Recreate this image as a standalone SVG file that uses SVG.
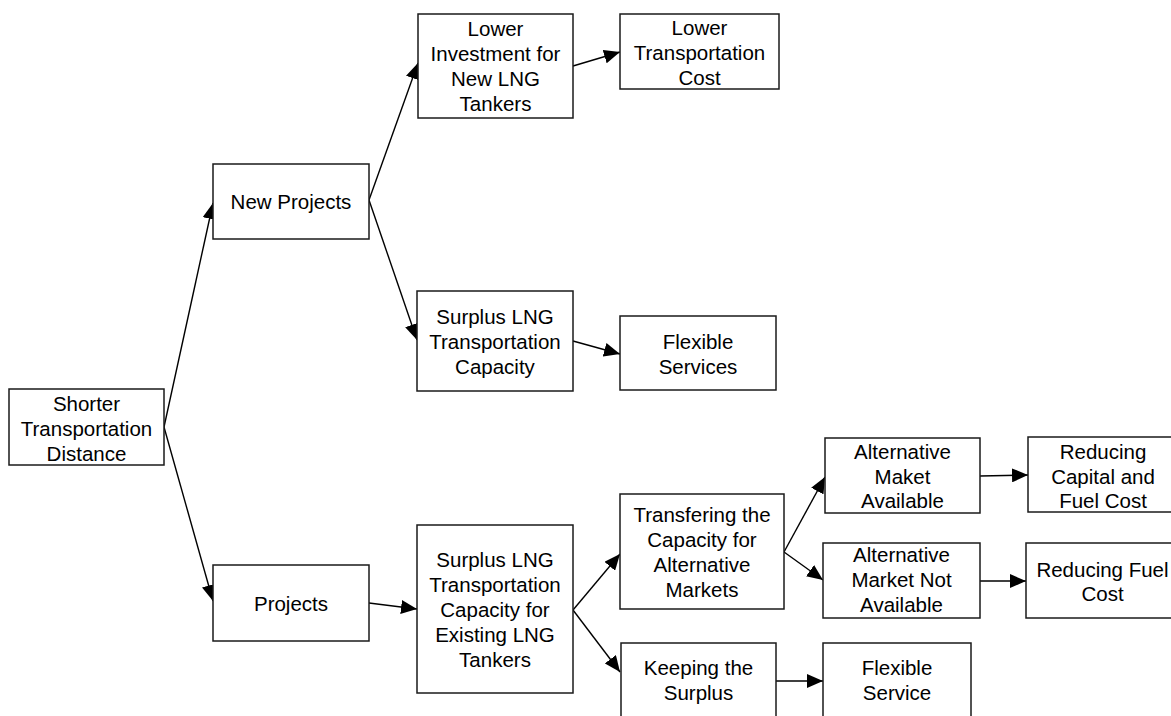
<svg xmlns="http://www.w3.org/2000/svg" width="1171" height="716" viewBox="0 0 1171 716">
<style>
  .box { fill: #ffffff; stroke: #1a1a1a; stroke-width: 1.5; }
  .lbl { font-family: "Liberation Sans", Arial, sans-serif; font-size: 20.5px; fill: #000000; text-anchor: middle; }
  .edge { stroke: #000000; stroke-width: 1.4; fill: none; marker-end: url(#arrow); }
</style>
<defs>
  <marker id="arrow" markerUnits="userSpaceOnUse" markerWidth="17" markerHeight="14" refX="16" refY="7" orient="auto">
    <path d="M0,0 L16,7 L0,14 z" fill="#000000"/>
  </marker>
</defs>
<rect width="1171" height="716" fill="#ffffff"/>

<g id="connectors">
  <line class="edge" x1="164" y1="427" x2="213" y2="203"/>
  <line class="edge" x1="164" y1="427" x2="213" y2="601"/>
  <line class="edge" x1="369" y1="200" x2="418" y2="63"/>
  <line class="edge" x1="369" y1="200" x2="417" y2="340"/>
  <line class="edge" x1="573" y1="66" x2="620" y2="52"/>
  <line class="edge" x1="573" y1="341" x2="620" y2="354"/>
  <line class="edge" x1="369" y1="603" x2="417" y2="609"/>
  <line class="edge" x1="573" y1="610" x2="620" y2="554"/>
  <line class="edge" x1="573" y1="610" x2="620" y2="672"/>
  <line class="edge" x1="784" y1="552" x2="825" y2="477"/>
  <line class="edge" x1="784" y1="552" x2="823" y2="580"/>
  <line class="edge" x1="980" y1="476" x2="1028" y2="475"/>
  <line class="edge" x1="980" y1="581" x2="1026" y2="581"/>
  <line class="edge" x1="776" y1="681" x2="823" y2="681"/>
</g>

<g id="n-shorter">
  <rect class="box" x="9" y="389" width="155" height="76"/>
  <text class="lbl" x="86.5" y="411">Shorter</text>
  <text class="lbl" x="86.5" y="436">Transportation</text>
  <text class="lbl" x="86.5" y="461">Distance</text>
</g>

<g id="n-newprojects">
  <rect class="box" x="213" y="164" width="156" height="75"/>
  <text class="lbl" x="291" y="209">New Projects</text>
</g>

<g id="n-lowerinvest">
  <rect class="box" x="418" y="14" width="155" height="104"/>
  <text class="lbl" x="495.5" y="36">Lower</text>
  <text class="lbl" x="495.5" y="61">Investment for</text>
  <text class="lbl" x="495.5" y="86">New LNG</text>
  <text class="lbl" x="495.5" y="111">Tankers</text>
</g>

<g id="n-lowertransport">
  <rect class="box" x="620" y="14" width="159" height="75"/>
  <text class="lbl" x="699.5" y="35">Lower</text>
  <text class="lbl" x="699.5" y="60">Transportation</text>
  <text class="lbl" x="699.5" y="84.5">Cost</text>
</g>

<g id="n-surplus">
  <rect class="box" x="417" y="291" width="156" height="100"/>
  <text class="lbl" x="495" y="324">Surplus LNG</text>
  <text class="lbl" x="495" y="349">Transportation</text>
  <text class="lbl" x="495" y="373.5">Capacity</text>
</g>

<g id="n-flexservices">
  <rect class="box" x="620" y="316" width="156" height="74"/>
  <text class="lbl" x="698" y="349">Flexible</text>
  <text class="lbl" x="698" y="373.5">Services</text>
</g>

<g id="n-projects">
  <rect class="box" x="213" y="565" width="156" height="76"/>
  <text class="lbl" x="291" y="610.5">Projects</text>
</g>

<g id="n-surplusexisting">
  <rect class="box" x="417" y="525" width="156" height="168"/>
  <text class="lbl" x="495" y="567">Surplus LNG</text>
  <text class="lbl" x="495" y="592">Transportation</text>
  <text class="lbl" x="495" y="617">Capacity for</text>
  <text class="lbl" x="495" y="642">Existing LNG</text>
  <text class="lbl" x="495" y="666.5">Tankers</text>
</g>

<g id="n-transfering">
  <rect class="box" x="620" y="494" width="164" height="115"/>
  <text class="lbl" x="702" y="522">Transfering the</text>
  <text class="lbl" x="702" y="547">Capacity for</text>
  <text class="lbl" x="702" y="572">Alternative</text>
  <text class="lbl" x="702" y="597">Markets</text>
</g>

<g id="n-altavailable">
  <rect class="box" x="825" y="438" width="155" height="75"/>
  <text class="lbl" x="902.5" y="458.5">Alternative</text>
  <text class="lbl" x="902.5" y="483.5">Maket</text>
  <text class="lbl" x="902.5" y="508">Available</text>
</g>

<g id="n-reducingcapital">
  <rect class="box" x="1028" y="437" width="152" height="75"/>
  <text class="lbl" x="1103" y="458.5">Reducing</text>
  <text class="lbl" x="1103" y="483.5">Capital and</text>
  <text class="lbl" x="1103" y="508">Fuel Cost</text>
</g>

<g id="n-altnotavailable">
  <rect class="box" x="823" y="543" width="157" height="75"/>
  <text class="lbl" x="901.5" y="562">Alternative</text>
  <text class="lbl" x="901.5" y="587">Market Not</text>
  <text class="lbl" x="901.5" y="612">Available</text>
</g>

<g id="n-reducingfuel">
  <rect class="box" x="1026" y="543" width="154" height="75"/>
  <text class="lbl" x="1102.5" y="577">Reducing Fuel</text>
  <text class="lbl" x="1102.5" y="600.5">Cost</text>
</g>

<g id="n-keeping">
  <rect class="box" x="621" y="643" width="155" height="80"/>
  <text class="lbl" x="698.5" y="675">Keeping the</text>
  <text class="lbl" x="698.5" y="700">Surplus</text>
</g>

<g id="n-flexservice">
  <rect class="box" x="823" y="643" width="148" height="80"/>
  <text class="lbl" x="897" y="675">Flexible</text>
  <text class="lbl" x="897" y="700">Service</text>
</g>
</svg>
